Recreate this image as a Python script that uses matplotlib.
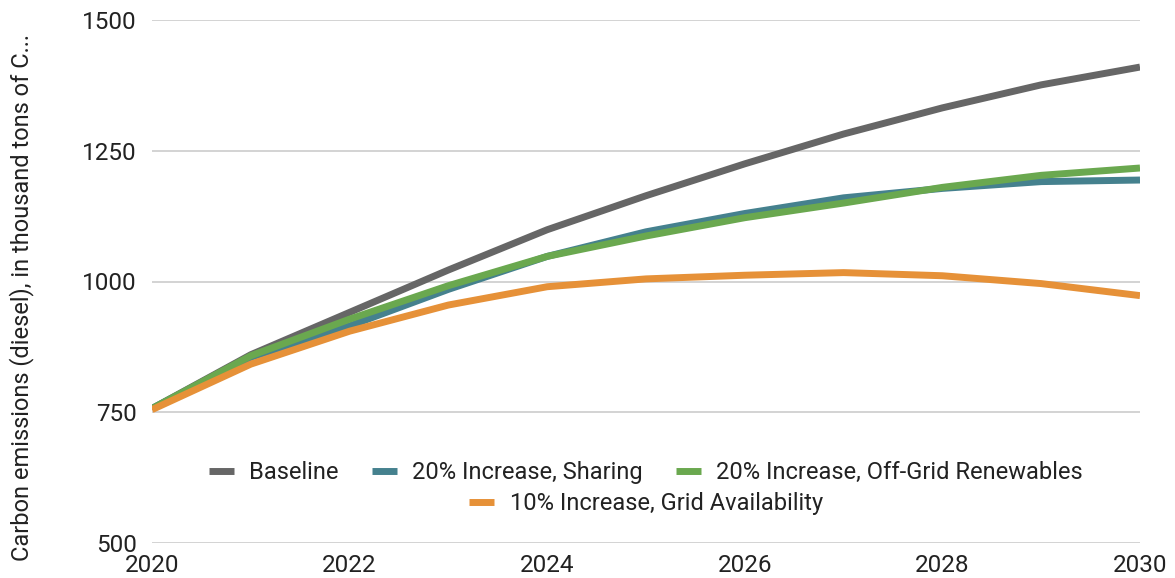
import matplotlib.pyplot as plt
from matplotlib.lines import Line2D

plt.rcParams["font.family"] = ["Roboto", "DejaVu Sans"]

# Datos
years = [2020, 2021, 2022, 2023, 2024, 2025, 2026, 2027, 2028, 2029, 2030]
baseline = [757, 860, 941, 1022, 1099, 1164, 1225, 1282, 1332, 1376, 1410]
sharing = [757, 855, 915, 985, 1048, 1095, 1130, 1160, 1178, 1191, 1194]
offgrid = [757, 858, 928, 992, 1048, 1087, 1122, 1150, 1180, 1203, 1217]
grid = [755, 842, 905, 955, 990, 1005, 1012, 1017, 1011, 996, 973]

series = [
    ("Baseline", baseline, "#666666"),
    ("20% Increase, Sharing", sharing, "#45818e"),
    ("20% Increase, Off-Grid Renewables", offgrid, "#6aa84f"),
    ("10% Increase, Grid Availability", grid, "#e69138"),
]

fig = plt.figure(figsize=(11.75, 5.78), dpi=100)
ax = fig.add_axes([152 / 1175, 1 - 543 / 578, (1140 - 152) / 1175, (543 - 20) / 578])

for label, values, color in series:
    ax.plot(years, values, color=color, lw=5, label=label, solid_capstyle="butt")

ax.set_xlim(2020, 2030)
ax.set_ylim(500, 1500)
ax.set_xticks(range(2020, 2031, 2))
ax.set_yticks([500, 750, 1000, 1250, 1500])
ax.tick_params(axis="both", length=0, labelsize=17.5, colors="#222222")
ax.tick_params(axis="y", pad=11)
ax.tick_params(axis="x", pad=8)
ax.grid(axis="y", color="#cccccc", lw=1.2)
ax.set_axisbelow(True)
for s in ax.spines.values():
    s.set_visible(False)

ax.set_ylabel("Carbon emissions (diesel), in thousand tons of C...", fontsize=17,
              color="#222222")
ax.yaxis.set_label_coords(-118 / 988, 0.47)

# Leyenda en dos filas, centrada
handles = [Line2D([0], [0], color=c, lw=5, solid_capstyle="butt") for _, _, c in series]
names = [n for n, _, _ in series]
leg1 = ax.legend(handles[:3], names[:3], loc="center", bbox_to_anchor=(0.5, 0.134),
                 ncol=3, frameon=False, fontsize=17, handlelength=1.06,
                 columnspacing=1.4, handletextpad=0.64)
for t in leg1.get_texts():
    t.set_color("#222222")
ax.add_artist(leg1)
leg2 = ax.legend(handles[3:], names[3:], loc="center", bbox_to_anchor=(0.5, 0.075),
                 frameon=False, fontsize=17, handlelength=1.06, handletextpad=0.64)
for t in leg2.get_texts():
    t.set_color("#222222")

fig.savefig("out.png", dpi=100)
